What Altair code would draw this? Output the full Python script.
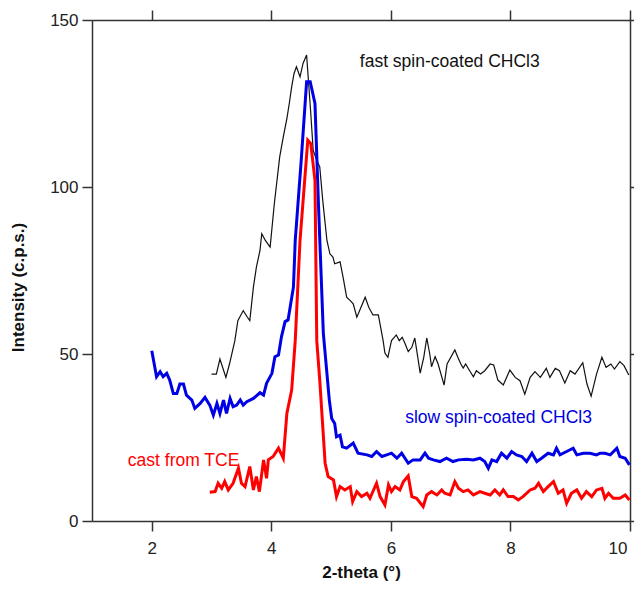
import altair as alt
import pandas as pd

# ---- data ----
fast_x = [3.00, 3.08, 3.14, 3.24, 3.30, 3.39, 3.44, 3.53, 3.60, 3.64, 3.70, 3.75, 3.81, 3.84, 3.90, 3.98,
          4.05, 4.14, 4.20, 4.26, 4.30, 4.34, 4.38, 4.42, 4.48, 4.53, 4.59, 4.61, 4.66, 4.70, 4.76, 4.81,
          4.86, 4.93, 4.98, 5.03, 5.06, 5.15, 5.20, 5.26, 5.32, 5.37, 5.43, 5.50, 5.57, 5.63, 5.70, 5.79,
          5.87, 5.90, 5.95, 6.01, 6.09, 6.14, 6.19, 6.24, 6.29, 6.35, 6.40, 6.45, 6.49, 6.55, 6.60, 6.65,
          6.68, 6.74, 6.79, 6.89, 6.94, 7.07, 7.12, 7.17, 7.21, 7.25, 7.30, 7.38, 7.43, 7.50, 7.57, 7.66,
          7.72, 7.79, 7.88, 7.99, 8.08, 8.16, 8.24, 8.33, 8.41, 8.50, 8.60, 8.66, 8.75, 8.82, 8.91, 9.00,
          9.08, 9.21, 9.28, 9.35, 9.44, 9.53, 9.60, 9.68, 9.74, 9.83, 9.90, 9.98]
fast_y = [44, 44, 48.5, 43, 47, 54, 60, 63, 61, 60, 70, 76, 81, 86, 84, 82,
          95, 109, 115, 120.5, 125, 130, 134, 136, 133, 137, 139.5, 134.5, 122, 111, 108, 106,
          96, 84, 80, 79, 77, 77.6, 73, 67, 66, 65, 61, 64, 67, 64, 61.7, 61.7,
          54, 50.3, 49, 54, 55.7, 54, 55, 53, 50.7, 52, 54.8, 49, 44.3, 49, 54.8, 50,
          46.2, 49.2, 47, 40.7, 47, 51.2, 49, 47, 45.8, 47, 45.5, 43.2, 45, 44, 45, 47,
          46.7, 42.2, 40.7, 45.2, 43, 42, 38, 43, 44.7, 43, 45.7, 43, 45.7, 45, 41.3, 45,
          44, 47.4, 41, 37.4, 44, 49, 46, 47, 45.5, 47.7, 46.5, 43.7]

slow_x = [2.00, 2.08, 2.14, 2.19, 2.25, 2.30, 2.36, 2.42, 2.47, 2.53, 2.58, 2.67, 2.72, 2.81, 2.89, 2.97,
          3.03, 3.09, 3.14, 3.20, 3.25, 3.31, 3.36, 3.42, 3.48, 3.53, 3.59, 3.70, 3.81, 3.87, 3.92, 4.01,
          4.06, 4.12, 4.17, 4.23, 4.28, 4.37, 4.40, 4.50, 4.59, 4.65, 4.73, 4.79, 4.87, 4.97, 5.01, 5.06,
          5.09, 5.15, 5.19, 5.26, 5.37, 5.45, 5.60, 5.68, 5.76, 5.85, 5.93, 6.01, 6.10, 6.18, 6.29, 6.37,
          6.49, 6.57, 6.63, 6.71, 6.82, 6.93, 7.04, 7.13, 7.27, 7.38, 7.49, 7.57, 7.63, 7.69, 7.77, 7.85,
          7.94, 8.02, 8.10, 8.19, 8.27, 8.36, 8.44, 8.52, 8.63, 8.72, 8.77, 8.83, 8.94, 9.05, 9.11, 9.22,
          9.33, 9.44, 9.50, 9.58, 9.67, 9.78, 9.83, 9.92, 9.99]
slow_y = [51.0, 43.2, 44.7, 43.2, 44.2, 42.2, 38.2, 38.2, 41.0, 41.0, 37.7, 36.2, 33.7, 35.2, 37.0, 34.7,
          31.7, 35.2, 32.2, 36.2, 32.2, 36.7, 34.2, 34.7, 36.2, 34.7, 35.7, 36.7, 38.4, 37.7, 41.2, 44.2,
          49.2, 49.7, 55.2, 59.7, 60.2, 70.1, 84, 108, 131.5, 131.5, 125, 94, 56.2, 36.2, 30.7, 29.2,
          25.2, 25.7, 22.2, 21.8, 23.3, 20.3, 19.8, 19.3, 20.8, 19.3, 19.8, 20.3, 18.8, 20.3, 17.3, 18.3,
          18.3, 20.3, 18.8, 18.3, 17.8, 18.8, 17.8, 18.3, 18.5, 18.3, 18.8, 17.8, 15.8, 18.3, 17.8, 20.3,
          18.8, 20.8, 19.8, 19.3, 17.8, 20.3, 17.8, 18.8, 20.3, 19.8, 21.8, 19.8, 20.8, 21.8, 19.8, 20.3,
          20.3, 19.8, 20.3, 20.3, 19.8, 21.8, 19.3, 18.8, 16.8]

cast_x = [2.97, 3.06, 3.11, 3.17, 3.22, 3.28, 3.36, 3.45, 3.50, 3.56, 3.64, 3.70, 3.75, 3.80, 3.87, 3.92,
          3.95, 4.03, 4.12, 4.20, 4.26, 4.34, 4.40, 4.48, 4.61, 4.66, 4.73, 4.76, 4.81, 4.90, 4.95, 5.04,
          5.09, 5.15, 5.23, 5.32, 5.36, 5.43, 5.51, 5.60, 5.65, 5.76, 5.82, 5.90, 5.96, 6.01, 6.07, 6.15,
          6.21, 6.29, 6.35, 6.43, 6.54, 6.60, 6.68, 6.77, 6.85, 6.90, 6.99, 7.07, 7.13, 7.21, 7.29, 7.38,
          7.49, 7.57, 7.66, 7.74, 7.82, 7.88, 7.96, 8.05, 8.13, 8.21, 8.33, 8.41, 8.47, 8.55, 8.63, 8.72,
          8.80, 8.88, 8.94, 9.02, 9.11, 9.19, 9.27, 9.36, 9.44, 9.53, 9.58, 9.64, 9.72, 9.83, 9.92, 9.99]
cast_y = [8.6, 8.8, 11.3, 9.8, 11.8, 9.3, 11.3, 15.8, 11.3, 10.3, 16.3, 9.3, 13.3, 8.8, 18.3, 12.8,
          18.3, 19.3, 21.8, 18.8, 32.2, 39.2, 54, 84, 114, 113, 102, 54, 42.2, 17.3, 13.3, 12.3,
          7.3, 10.3, 9.3, 10.3, 5.8, 8.8, 7.3, 8.3, 6.8, 11.3, 7.3, 4.8, 10.8, 8.8, 10.3, 9.3,
          11.8, 13.5, 7.3, 6.8, 4.3, 7.8, 8.8, 7.8, 9.3, 8.3, 7.8, 11.8, 9.8, 8.8, 9.3, 7.8,
          8.8, 8.3, 7.8, 9.3, 7.8, 9.3, 7.3, 7.3, 6.3, 7.3, 9.3, 9.8, 11.3, 8.8, 10.3, 11.8,
          8.3, 9.3, 5.3, 8.3, 9.3, 6.8, 8.8, 7.3, 9.3, 9.8, 6.8, 8.3, 6.8, 6.8, 7.8, 6.3]

ann_text = ["fast spin-coated CHCl3", "slow spin-coated CHCl3", "cast from TCE"]
ann_x = [5.48, 6.24, 1.60]
ann_y = [137.4, 30.8, 18.0]
ann_color = ["#111111", "#0000dd", "#ff0000"]

x_ticks = [2, 4, 6, 8, 10]
y_ticks = [0, 50, 100, 150]

FONT = "Liberation Sans"
AX = "#333333"

df_fast = pd.DataFrame({"x": fast_x, "y": fast_y})
df_slow = pd.DataFrame({"x": slow_x, "y": slow_y})
df_cast = pd.DataFrame({"x": cast_x, "y": cast_y})
df_ann = pd.DataFrame({"t": ann_text, "x": ann_x, "y": ann_y, "c": ann_color})

sx = alt.Scale(domain=[1, 10], nice=False, zero=False)
sy = alt.Scale(domain=[0, 150], nice=False)

common_axis = dict(tickSize=10, tickWidth=1.5, tickColor=AX, domainColor=AX, domainWidth=1.5,
                   grid=False, labelFont=FONT, labelFontSize=17, labelColor="#222222",
                   titleFont=FONT, titleFontSize=17, titleFontWeight="bold", titleColor="#111111")

x_axis = alt.Axis(values=x_ticks, title="2-theta (°)", labelPadding=9, labelFlush=True,
                  labelFlushOffset=-3, titleY=56, titleBaseline="alphabetic", **common_axis)
y_axis = alt.Axis(values=y_ticks, title="Intensity (c.p.s.)", labelPadding=4, labelFlush=False,
                  titleX=-65, titleY=267, titleAngle=-90, titleAlign="center", titleBaseline="bottom",
                  **common_axis)

fast = alt.Chart(df_fast).mark_line(color="#111111", strokeWidth=1.2).encode(
    x=alt.X("x:Q", scale=sx, axis=x_axis),
    y=alt.Y("y:Q", scale=sy, axis=y_axis),
)

frame = alt.Chart(df_fast).mark_line(opacity=0).encode(
    x=alt.X("x:Q", scale=sx, axis=alt.Axis(orient="top", values=x_ticks, labels=False, title=None,
                                             tickSize=10, tickWidth=1.5, tickColor=AX,
                                             domainColor=AX, domainWidth=1.5, grid=False)),
    y=alt.Y("y:Q", scale=sy, axis=alt.Axis(orient="right", values=y_ticks, labels=False, title=None,
                                             tickSize=10, tickWidth=1.5, tickColor=AX,
                                             domainColor=AX, domainWidth=1.5, grid=False)),
)

slow = alt.Chart(df_slow).mark_line(color="#0000e6", strokeWidth=3).encode(
    x=alt.X("x:Q", scale=sx, axis=None),
    y=alt.Y("y:Q", scale=sy, axis=None),
)

cast = alt.Chart(df_cast).mark_line(color="#ff0000", strokeWidth=3).encode(
    x=alt.X("x:Q", scale=sx, axis=None),
    y=alt.Y("y:Q", scale=sy, axis=None),
)

ann = alt.Chart(df_ann).mark_text(align="left", baseline="middle", font=FONT, fontSize=17.5).encode(
    x=alt.X("x:Q", scale=sx, axis=None),
    y=alt.Y("y:Q", scale=sy, axis=None),
    text="t:N",
    color=alt.Color("c:N", scale=None),
)

chart = alt.layer(fast, frame, slow, cast, ann).resolve_axis(
    x="independent", y="independent"
).properties(
    width=538, height=501,
    autosize=alt.AutoSizeParams(type="none"),
    padding={"left": 84, "top": 12, "right": 4, "bottom": 60},
).configure_view(stroke=None).configure(background="white")

chart.save("out.html", embed_options={"renderer": "svg", "actions": False})
